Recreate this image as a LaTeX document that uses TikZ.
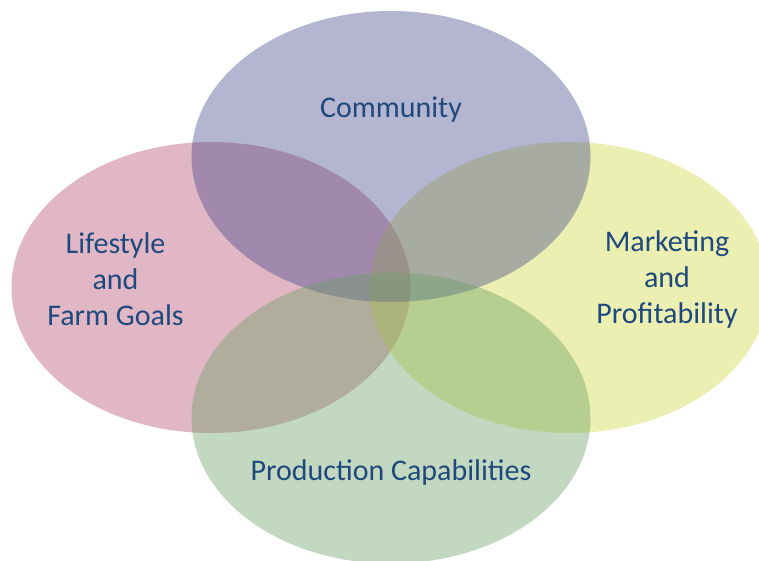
\documentclass[tikz,border=0pt]{standalone}
\usepackage{fontspec}
\setmainfont{Carlito}
\definecolor{txtblue}{RGB}{31,73,125}
\definecolor{cTop}{RGB}{65,70,140}
\definecolor{cLeft}{RGB}{180,75,112}
\definecolor{cRight}{RGB}{205,215,62}
\definecolor{cBottom}{RGB}{105,157,97}
\begin{document}
\begin{tikzpicture}[x=1pt,y=-1pt,
  blob/.style={fill opacity=0.4, draw=none},
  lbl/.style={text=txtblue, font=\fontsize{30}{36}\selectfont, align=center, inner sep=0pt}]
\useasboundingbox (0,0) rectangle (759,560);
\begin{scope}
\clip (0,0) rectangle (759,560);
\fill[cLeft, blob] (211,287.5) ellipse [x radius=199.5pt, y radius=145.5pt];
\fill[cRight, blob] (569,287.5) ellipse [x radius=199.5pt, y radius=145.5pt];
\fill[cTop, blob] (391,156.5) ellipse [x radius=199.5pt, y radius=145.5pt];
\fill[cBottom, blob] (391,418) ellipse [x radius=199.5pt, y radius=145.5pt];
\end{scope}
\node[lbl, anchor=base] (community) at (391,117) {Community};
\node[lbl, anchor=base] (production) at (391,480) {Production Capabilities};
\node[lbl] (lifestyle) at (115.5,279) {Lifestyle\\and\\Farm Goals};
\node[lbl] (marketing) at (667,279) {Marketing\\and\\Profitability};
\end{tikzpicture}
\end{document}
